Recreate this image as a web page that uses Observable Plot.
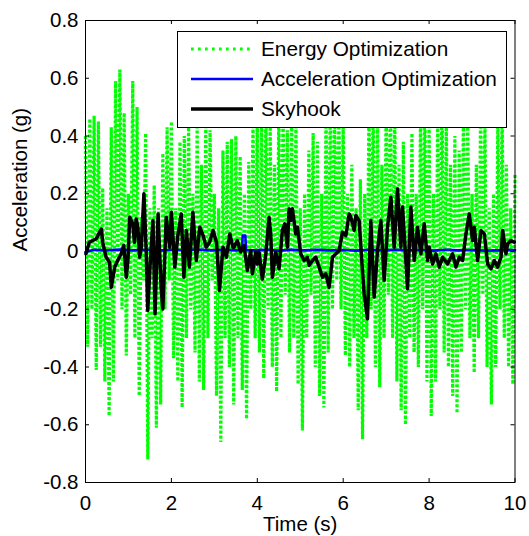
<!DOCTYPE html>
<html>
<head>
<meta charset="utf-8">
<script src="https://cdn.jsdelivr.net/npm/d3@7"></script>
<script src="https://cdn.jsdelivr.net/npm/@observablehq/plot@0.6"></script>
<style>
  html, body { margin: 0; padding: 0; background: #fff; }
  #wrap { position: relative; width: 529px; height: 536px; font-family: "Liberation Sans", Arial, sans-serif; }
  #legend { position: absolute; left: 177px; top: 31px; width: 330px; height: 97px; box-sizing: border-box;
            border: 1px solid #000; background: #fff; }
  .lrow { position: absolute; left: 0; height: 30px; width: 100%; }
  .lrow svg { position: absolute; left: 12px; top: 0; }
  .lrow span { position: absolute; left: 83px; top: 3px; font-size: 20.8px; line-height: 24px; color: #000; white-space: nowrap; }
</style>
</head>
<body>
<div id="wrap"></div>
<script>
// ---- axis ticks ----
const xTicks = [0, 2, 4, 6, 8, 10];
const yTicks = [-0.8, -0.6, -0.4, -0.2, 0, 0.2, 0.4, 0.6, 0.8];
const xLabel = "Time (s)";
const yLabel = "Acceleration (g)";

// ---- series names / colours ----
const seriesNames = ["Energy Optimization", "Acceleration Optimization", "Skyhook"];
const seriesColors = ["#00ff00", "#0000ff", "#000000"];

// ---- Energy Optimization: successive peaks (t = 0, 0.1, ..., 10) and troughs (t = 0.05, 0.15, ..., 9.95) ----
const energyPeaks = [
  0.40, 0.46, 0.47, 0.45, 0.22, 0.15, 0.43, 0.59, 0.63, 0.48,
  0.20, 0.59, 0.50, 0.12, 0.41, 0.15, 0.23, 0.15, 0.34, 0.43,
  0.45, 0.15, 0.38, 0.40, 0.44, 0.20, 0.44, 0.30, 0.45, 0.42,
  0.20, 0.15, 0.35, 0.38, 0.39, 0.40, 0.33, 0.20, 0.31, 0.45,
  0.48, 0.50, 0.48, 0.45, 0.30, 0.50, 0.48, 0.42, 0.50, 0.45,
  0.15, 0.20, 0.35, 0.41, 0.38, 0.20, 0.50, 0.55, 0.50, 0.48,
  0.45, 0.20, 0.30, 0.15, 0.25, 0.20, 0.50, 0.55, 0.45, 0.30,
  0.50, 0.55, 0.50, 0.30, 0.38, 0.20, 0.41, 0.20, 0.48, 0.55,
  0.45, 0.20, 0.48, 0.55, 0.45, 0.30, 0.40, 0.35, 0.50, 0.45,
  0.20, 0.30, 0.50, 0.45, 0.15, 0.20, 0.45, 0.50, 0.30, 0.15,
  0.27
];
const energyTroughs = [
  -0.33, -0.20, -0.41, -0.33, -0.45, -0.57, -0.45, -0.10, -0.20, -0.36,
  -0.15, -0.30, -0.50, -0.10, -0.72, -0.30, -0.61, -0.53, -0.20, -0.10,
  -0.37, -0.45, -0.54, -0.30, -0.20, -0.35, -0.45, -0.48, -0.30, -0.10,
  -0.50, -0.66, -0.30, -0.40, -0.53, -0.30, -0.48, -0.58, -0.20, -0.30,
  -0.35, -0.44, -0.20, -0.40, -0.485, -0.30, -0.15, -0.35, -0.30, -0.46,
  -0.62, -0.30, -0.15, -0.40, -0.50, -0.54, -0.35, -0.20, -0.10, -0.20,
  -0.36, -0.40, -0.30, -0.55, -0.65, -0.30, -0.20, -0.40, -0.47, -0.30,
  -0.15, -0.30, -0.45, -0.55, -0.60, -0.30, -0.35, -0.40, -0.20, -0.45,
  -0.57, -0.45, -0.20, -0.35, -0.40, -0.50, -0.56, -0.35, -0.20, -0.30,
  -0.42, -0.30, -0.15, -0.40, -0.53, -0.40, -0.20, -0.30, -0.40, -0.46
];

// ---- Acceleration Optimization ----
const accelTime = [0, 0.2, 0.5, 0.8, 1.1, 1.4, 1.7, 2.0, 2.3, 2.6, 2.9, 3.2, 3.5, 3.64, 3.66, 3.72, 3.74,
  3.9, 4.2, 4.5, 4.8, 5.1, 5.4, 5.7, 6.0, 6.3, 6.6, 6.9, 7.2, 7.5, 7.8, 8.1, 8.4, 8.7, 9.0, 9.3, 9.6, 10];
const accelValue = [-0.002, 0.006, 0.004, 0.007, 0.004, 0.006, 0.003, 0.006, 0.004, 0.007, 0.004, 0.006, 0.004, 0.005, 0.055, 0.055, 0.005,
  0.004, 0.006, 0.003, 0.006, 0.004, 0.006, 0.004, 0.005, 0.003, 0.006, 0.004, 0.006, 0.004, 0.005, 0.003, 0.006, 0.004, 0.005, 0.003, 0.004, 0.005];

// ---- Skyhook ----
const skyTime = [
  0.01, 0.09, 0.17, 0.25, 0.33, 0.37, 0.40, 0.48, 0.56, 0.60,
  0.68, 0.75, 0.83, 0.89, 0.95, 0.99, 1.03, 1.10, 1.14, 1.18,
  1.22, 1.26, 1.30, 1.36, 1.41, 1.45, 1.51, 1.57, 1.62, 1.69,
  1.76, 1.80, 1.88, 1.96, 2.00, 2.08, 2.15, 2.23, 2.29, 2.35,
  2.42, 2.50, 2.58, 2.66, 2.74, 2.81, 2.89, 2.97, 3.05, 3.12,
  3.20, 3.28, 3.36, 3.43,
  3.458, 3.535, 3.613, 3.691, 3.769, 3.846, 3.885, 3.963, 4.002, 4.040,
  4.118, 4.196, 4.274, 4.312, 4.351, 4.429, 4.468, 4.507, 4.584, 4.639,
  4.701, 4.740, 4.779, 4.817, 4.895, 4.934, 5.012, 5.089, 5.167, 5.206,
  5.284, 5.361, 5.439, 5.517, 5.594, 5.672, 5.750, 5.828, 5.905, 5.983,
  6.061, 6.138, 6.177, 6.255, 6.294, 6.371, 6.449, 6.488, 6.566,
  6.643, 6.721, 6.799, 6.876, 6.954, 7.032, 7.110, 7.187, 7.265, 7.343,
  7.382, 7.459, 7.498, 7.576, 7.653, 7.731, 7.809, 7.886, 7.964, 8.003,
  8.081, 8.159, 8.236, 8.314, 8.430, 8.547, 8.625, 8.702, 8.780, 8.858,
  8.935, 9.013, 9.052, 9.130, 9.207, 9.285, 9.363, 9.441, 9.518, 9.596,
  9.674, 9.713, 9.790, 9.829, 9.907, 9.984
];
const skyValue = [
  -0.008, 0.032, 0.038, 0.044, 0.067, 0.078, 0.032, -0.020, -0.037, -0.124,
  -0.054, -0.031, -0.008, 0.021, -0.089, -0.025, 0.119, 0.096, 0.032, 0.113,
  0.084, -0.020, 0.015, 0.200, 0.015, -0.204, -0.031, 0.107, -0.216, 0.130,
  -0.124, -0.199, 0.119, 0.015, 0.136, -0.054, 0.055, 0.130, -0.089, 0.073,
  -0.054, 0.136, -0.031, 0.084, 0.055, 0.015, 0.032, 0.073, 0.032, -0.135,
  0.015, -0.020, 0.061, 0.015,
  0.015, 0.038, -0.002, 0.021, -0.066, 0.003, -0.077, -0.002, -0.043, -0.002,
  -0.095, -0.014, 0.119, 0.061, -0.089, -0.002, -0.031, -0.060, 0.073, 0.096,
  0.015, 0.148, 0.107, 0.148, 0.061, 0.084, -0.008, -0.031, -0.020, -0.048,
  -0.031, -0.020, -0.054, -0.089, -0.077, -0.124, -0.020, -0.008, 0.003, 0.067,
  0.055, 0.130, 0.119, 0.073, 0.125, 0.107, -0.066, -0.147, -0.233,
  0.107, -0.158, 0.003, 0.107, -0.100, 0.084, 0.188, 0.015, 0.217, 0.015,
  0.154, -0.031, -0.129, 0.154, -0.031, 0.084, -0.008, 0.096, -0.031, 0.015,
  -0.043, -0.008, -0.054, -0.020, -0.043, -0.008, -0.054, -0.020, -0.031, 0.061,
  0.130, 0.038, 0.084, -0.031, 0.073, 0.061, -0.043, -0.060, -0.031, -0.054,
  -0.020, 0.073, -0.008, 0.027, 0.038, 0.032
];

// ---- build tables ----
const energy = [];
for (let i = 0; i < energyPeaks.length; i++) {
  energy.push({t: i * 0.1, v: energyPeaks[i]});
  if (i < energyTroughs.length) energy.push({t: i * 0.1 + 0.05, v: energyTroughs[i]});
}
const accel = accelTime.map((t, i) => ({t, v: accelValue[i]}));
const sky = skyTime.map((t, i) => ({t, v: skyValue[i]}));

const W = 529, H = 536;
const mL = 85, mR = 14.5, mT = 20, mB = 54;
const innerW = W - mL - mR, innerH = H - mT - mB;
const tick = 4;
const fmt = d => String(d);

const chart = Plot.plot({
  width: W, height: H,
  marginLeft: mL, marginRight: mR, marginTop: mT, marginBottom: mB,
  x: {domain: [0, 10]},
  y: {domain: [-0.8, 0.8]},
  style: {fontFamily: "'Liberation Sans', Arial, sans-serif", fontSize: "20px", color: "#000", background: "#fff", overflow: "visible"},
  marks: [
    Plot.line(energy, {x: "t", y: "v", stroke: seriesColors[0], strokeWidth: 3.2, strokeDasharray: "3,2", strokeLinecap: "butt", strokeLinejoin: "miter"}),
    Plot.line(accel, {x: "t", y: "v", stroke: seriesColors[1], strokeWidth: 2.6}),
    Plot.line(sky, {x: "t", y: "v", stroke: seriesColors[2], strokeWidth: 3.5}),
    Plot.frame({stroke: "#000", strokeWidth: 1}),
    Plot.tickX(xTicks, {x: d => d, stroke: "#000", insetTop: innerH - tick}),
    Plot.tickX(xTicks, {x: d => d, stroke: "#000", insetBottom: innerH - tick}),
    Plot.tickY(yTicks, {y: d => d, stroke: "#000", insetRight: innerW - tick}),
    Plot.tickY(yTicks, {y: d => d, stroke: "#000", insetLeft: innerW - tick}),
    Plot.axisX(xTicks, {tickSize: 0, tickPadding: 13, label: null, tickFormat: fmt, fontSize: 20.5}),
    Plot.axisY(yTicks, {tickSize: 0, tickPadding: 7, label: null, tickFormat: fmt, fontSize: 20.5}),
    Plot.text([xLabel], {frameAnchor: "bottom", dy: 42, lineAnchor: "middle", fontSize: 20.5, fill: "#000"}),
    Plot.text([yLabel], {frameAnchor: "left", dx: -65, rotate: -90, lineAnchor: "middle", fontSize: 20.5, fill: "#000"})
  ]
});

const wrap = document.getElementById("wrap");
wrap.appendChild(chart);

// ---- legend (drawn over the axes, top-right) ----
const legend = document.createElement("div");
legend.id = "legend";
const dashes = ["2.7,4.3", null, null];
const widths = [2.8, 2.6, 3.4];
seriesNames.forEach((name, i) => {
  const row = document.createElement("div");
  row.className = "lrow";
  row.style.top = (i * 30 + 2) + "px";
  const svgNS = "http://www.w3.org/2000/svg";
  const svg = document.createElementNS(svgNS, "svg");
  svg.setAttribute("width", 64);
  svg.setAttribute("height", 30);
  const ln = document.createElementNS(svgNS, "line");
  ln.setAttribute("x1", 1); ln.setAttribute("x2", 63);
  ln.setAttribute("y1", 15); ln.setAttribute("y2", 15);
  ln.setAttribute("stroke", seriesColors[i]);
  ln.setAttribute("stroke-width", widths[i]);
  if (dashes[i]) ln.setAttribute("stroke-dasharray", dashes[i]);
  svg.appendChild(ln);
  row.appendChild(svg);
  const sp = document.createElement("span");
  sp.textContent = name;
  row.appendChild(sp);
  legend.appendChild(row);
});
wrap.appendChild(legend);
</script>
</body>
</html>
